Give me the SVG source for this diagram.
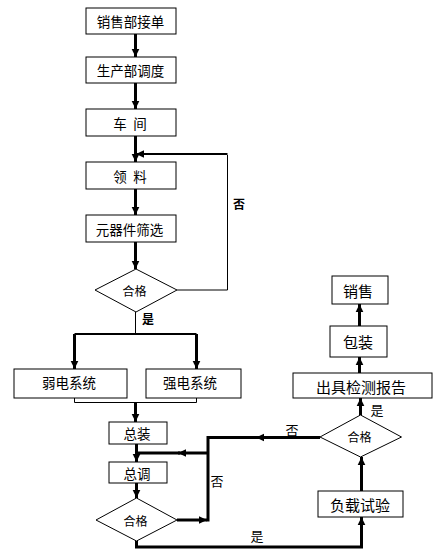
<svg xmlns="http://www.w3.org/2000/svg" width="441" height="554" viewBox="0 0 441 554">
<style>
.box{fill:#fff;stroke:#000;stroke-width:1}
.dia{fill:#fff;stroke:#000;stroke-width:1}
.t{font-family:"Noto Sans CJK SC","Noto Sans CJK JP",sans-serif;font-size:13.5px;fill:#000;text-anchor:middle;dominant-baseline:central}
.tr{font-size:15px}
.td{font-size:12px}
.lb{font-family:"Noto Sans CJK SC",sans-serif;font-size:13px;fill:#000;text-anchor:middle;dominant-baseline:central}
.b{font-weight:bold;font-size:12px}
.k{fill:none;stroke:#000;stroke-width:3}
.m{fill:none;stroke:#000;stroke-width:2}
.n{fill:none;stroke:#000;stroke-width:1}
.a{marker-end:url(#ah)}
</style>
<defs>
<marker id="ah" markerUnits="userSpaceOnUse" markerWidth="10" markerHeight="10" viewBox="-9 -5 10 10" refX="0" refY="0" orient="auto">
<path d="M0,0 L-8,-3.8 L-8,3.8 Z" fill="#000"/>
</marker>
</defs>
<rect width="441" height="554" fill="#fff"/>
<g id="connectors">
<path class="k a" d="M135.5,34 V57"/>
<path class="k a" d="M135.5,83 V109"/>
<path class="k a" d="M135.5,136 V162"/>
<path class="k a" d="M135.5,189 V215"/>
<path class="k a" d="M135.5,242 V269"/>
<path class="n" d="M177,290 H227.5 V155"/>
<path class="m a" d="M227.5,154 H136"/>
<path class="n" d="M135.5,312 V334"/>
<path class="m" d="M74.5,334 H196.5"/>
<path class="k a" d="M74.5,334 V369"/>
<path class="k a" d="M196.5,334 V369"/>
<path class="n" d="M74.5,398 V402.5 H196.5 V398"/>
<path class="k a" d="M135.5,402.5 V422"/>
<path class="k a" d="M136.5,444 V462"/>
<path class="k a" d="M136.5,483 V498"/>
<path class="k a" d="M177,520 H207"/>
<path class="k" d="M208,521.5 V437.5 H320"/>
<path class="k a" d="M320,437.5 H256"/>
<path class="k a" d="M208,453 H178"/>
<path class="k" d="M180,453 H136.5"/>
<path class="k a" d="M136.5,541 V547 H361.5 V517"/>
<path class="k a" d="M361.5,491 V457"/>
<path class="k a" d="M360.5,415 V398"/>
<path class="k a" d="M359.5,373 V357"/>
<path class="k a" d="M359.5,326 V304"/>
</g>
<g id="n1"><rect class="box" x="86" y="8" width="90" height="26"/><text class="t" x="130.5" y="21">销售部接单</text></g>
<g id="n2"><rect class="box" x="86" y="57" width="90" height="26"/><text class="t" x="130.5" y="70">生产部调度</text></g>
<g id="n3"><rect class="box" x="86" y="109" width="90" height="27"/><text class="t" x="130" y="122.5">车&#8194;间</text></g>
<g id="n4"><rect class="box" x="86" y="162" width="90" height="27"/><text class="t" x="130" y="175.5">领&#8194;料</text></g>
<g id="n5"><rect class="box" x="86" y="215" width="90" height="27"/><text class="t" x="129.5" y="228.5">元器件筛选</text></g>
<g id="n6"><polygon class="dia" points="136,269 177,290 136,312 95,290"/><text class="t td" x="134.5" y="290">合格</text></g>
<g id="n7"><rect class="box" x="14" y="369" width="113" height="29"/><text class="t" x="69" y="382">弱电系统</text></g>
<g id="n8"><rect class="box" x="146" y="369" width="95" height="29"/><text class="t" x="190" y="382">强电系统</text></g>
<g id="n9"><rect class="box" x="109" y="422" width="58" height="22"/><text class="t" x="137" y="433">总装</text></g>
<g id="n10"><rect class="box" x="109" y="462" width="58" height="21"/><text class="t" x="137" y="472.5">总调</text></g>
<g id="n11"><polygon class="dia" points="136.5,498 177,520 136.5,541 96,520"/><text class="t td" x="135.5" y="520">合格</text></g>
<g id="n12"><rect class="box" x="318" y="491" width="85" height="26"/><text class="t tr" x="360" y="504.5">负载试验</text></g>
<g id="n13"><polygon class="dia" points="360.5,415 401.5,437 360.5,457 320,437"/><text class="t td" x="359.5" y="436">合格</text></g>
<g id="n14"><rect class="box" x="293" y="373" width="139" height="25"/><text class="t tr" x="361" y="386">出具检测报告</text></g>
<g id="n15"><rect class="box" x="330" y="326" width="57" height="31"/><text class="t tr" x="358" y="341.5">包装</text></g>
<g id="n16"><rect class="box" x="332" y="276" width="56" height="28"/><text class="t tr" x="358" y="290.5">销售</text></g>
<g id="labels">
<text class="lb b" x="239" y="203">否</text>
<text class="lb b" x="148" y="318">是</text>
<text class="lb" x="217" y="480">否</text>
<text class="lb" x="257" y="535">是</text>
<text class="lb" x="292" y="429">否</text>
<text class="lb" x="377" y="409">是</text>
</g>
</svg>
